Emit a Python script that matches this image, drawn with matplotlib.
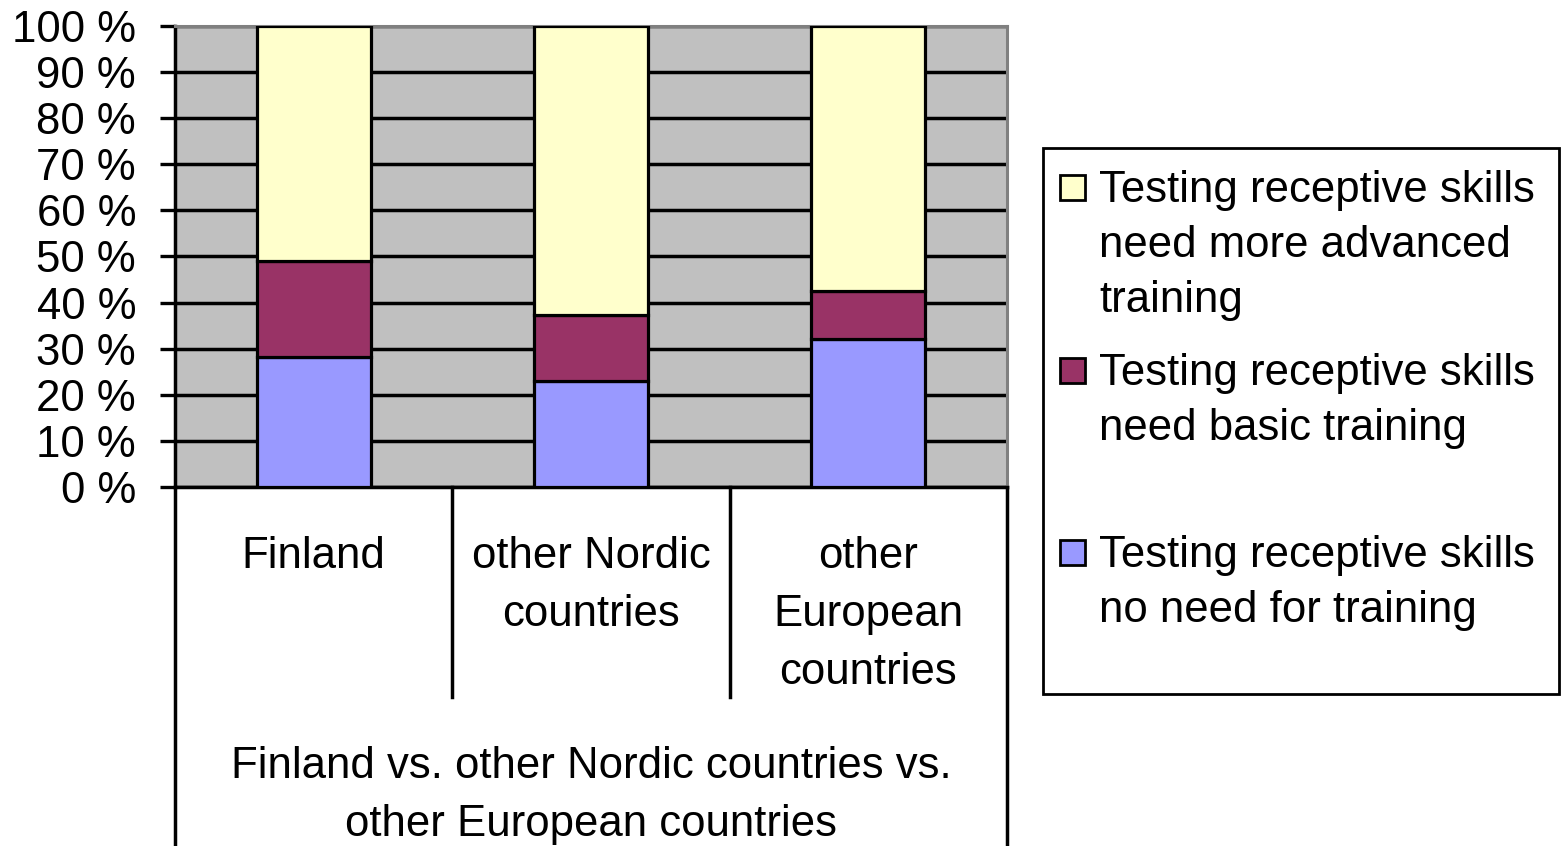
import matplotlib
matplotlib.use("Agg")
import matplotlib.pyplot as plt
from matplotlib.patches import Rectangle
from matplotlib.lines import Line2D
import matplotlib.transforms as mtrans

plt.rcParams['font.family'] = ['Liberation Sans', 'DejaVu Sans']

categories = ["Finland", "other Nordic\ncountries", "other\nEuropean\ncountries"]
group_label = ["Finland vs. other Nordic countries vs.", "other European countries"]
no_need = [28.3, 23.0, 32.1]
basic = [20.8, 14.3, 10.4]
advanced = [50.9, 62.7, 57.5]
series_labels = [
    ["Testing receptive skills", "need more advanced", "training"],
    ["Testing receptive skills", "need basic training"],
    ["Testing receptive skills", "no need for training"],
]
colors = ["#FFFFCC", "#993366", "#9999FF"]  # advanced, basic, no need
yticks = list(range(0, 101, 10))
ytick_labels = [f"{v} %" for v in yticks]

W, H = 1564, 846
fig = plt.figure(figsize=(W / 100, H / 100), dpi=100)
fs = 31.5

# axes in pixel layout
L, R, T, B = 175, 1007, 26, 487
ax = fig.add_axes([L / W, (H - B) / H, (R - L) / W, (B - T) / H])
ax.set_facecolor("#C0C0C0")
ax.set_xlim(-0.5, len(categories) - 0.5)
ax.set_ylim(0, 100)
ax.set_axisbelow(True)
ax.yaxis.grid(True, color="black", linewidth=2.5)
ax.set_yticks(yticks)
ax.set_yticklabels(ytick_labels, fontsize=fs)
ax.tick_params(axis="y", length=11, width=2.4, pad=17, direction="out")
ax.set_xticks([])
for s in ["left", "bottom"]:
    ax.spines[s].set_color("black")
    ax.spines[s].set_linewidth(2.5)
for s in ["top", "right"]:
    ax.spines[s].set_color("#808080")
    ax.spines[s].set_linewidth(2.2)

x = list(range(len(categories)))
bw = 0.41
ax.bar(x, no_need, bw, color=colors[2], edgecolor="black", linewidth=2.3, zorder=3)
bottom2 = no_need
ax.bar(x, basic, bw, bottom=bottom2, color=colors[1], edgecolor="black", linewidth=2.3, zorder=3)
bottom3 = [a + b for a, b in zip(no_need, basic)]
ax.bar(x, advanced, bw, bottom=bottom3, color=colors[0], edgecolor="black", linewidth=2.3, zorder=3)

# category table below axes
def yax(ypix):
    return (B - ypix) / (B - T)

trans = mtrans.blended_transform_factory(ax.transData, ax.transAxes)
for xi in [-0.5, len(categories) - 0.5]:
    ax.add_line(Line2D([xi, xi], [0, yax(H + 5)], transform=trans, color="black",
                       linewidth=2.5, clip_on=False))
for xi in [0.5, 1.5]:
    ax.add_line(Line2D([xi, xi], [0, yax(697)], transform=trans, color="black",
                       linewidth=2.5, clip_on=False))

line_step = 58
for xi, lab in zip(x, categories):
    for k, ln in enumerate(lab.split("\n")):
        ax.text(xi, yax(568 + k * line_step), ln, transform=trans, ha="center",
                va="baseline", fontsize=fs, clip_on=False)
for k, ln in enumerate(group_label):
    ax.text((len(categories) - 1) / 2, yax(778 + k * line_step), ln, transform=trans,
            ha="center", va="baseline", fontsize=fs, clip_on=False)

# legend drawn in figure pixel coordinates
def fx(p):
    return p / W

def fy(p):
    return (H - p) / H

fig.add_artist(Rectangle((fx(1043), fy(694)), fx(1559 - 1043), (694 - 148) / H,
                         transform=fig.transFigure, facecolor="white",
                         edgecolor="black", linewidth=2.0))
entry_tops = [202, 385, 567]
leg_colors = [colors[0], colors[1], colors[2]]
for top, col, lines in zip(entry_tops, leg_colors, series_labels):
    fig.add_artist(Rectangle((fx(1060), fy(top - 2)), fx(25), 25 / H,
                             transform=fig.transFigure, facecolor=col,
                             edgecolor="black", linewidth=2.0))
    for k, ln in enumerate(lines):
        fig.text(fx(1099), fy(top + k * 55), ln, fontsize=fs, ha="left", va="baseline")

fig.savefig("out.png", dpi=100)
